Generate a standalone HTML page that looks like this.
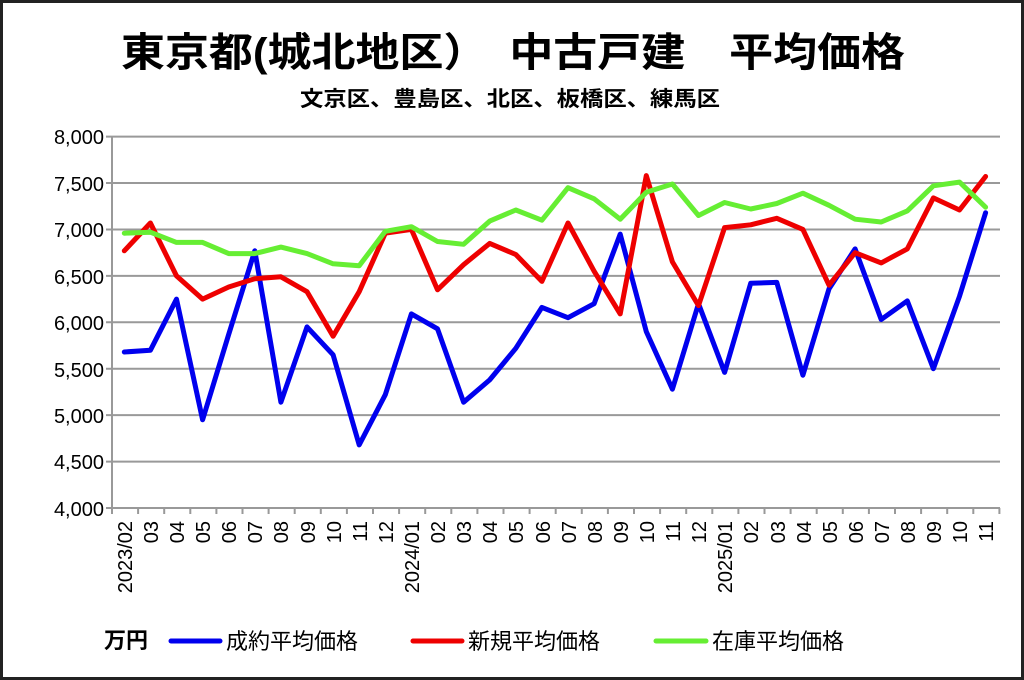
<!DOCTYPE html>
<html><head><meta charset="utf-8">
<style>
html,body{margin:0;padding:0;background:#fff;}
svg{display:block;}
text{font-family:"Liberation Sans","Noto Sans CJK JP",sans-serif;fill:#000;}
</style></head>
<body>
<svg id="c" width="1024" height="680" viewBox="0 0 1024 680" xmlns="http://www.w3.org/2000/svg">
<rect x="1.5" y="1.5" width="1021" height="677" fill="#fff" stroke="#222" stroke-width="3"/>
<text x="513" y="66" text-anchor="middle" font-size="40" font-weight="bold" textLength="784" lengthAdjust="spacingAndGlyphs">東京都(城北地区）　中古戸建　平均価格</text>
<text x="510" y="106" text-anchor="middle" font-size="21" font-weight="bold" textLength="420" lengthAdjust="spacingAndGlyphs">文京区、豊島区、北区、板橋区、練馬区</text>
<g id="grid" stroke="#999" stroke-width="2"></g>
<g font-size="20" text-anchor="end">
<text x="104" y="144">8,000</text>
<text x="104" y="191">7,500</text>
<text x="104" y="237">7,000</text>
<text x="104" y="284">6,500</text>
<text x="104" y="330">6,000</text>
<text x="104" y="377">5,500</text>
<text x="104" y="423">5,000</text>
<text x="104" y="469">4,500</text>
<text x="104" y="516">4,000</text>
</g>
<g id="xl" font-size="20" text-anchor="end">
<text transform="translate(132,521) rotate(-90)">2023/02</text>
<text transform="translate(158,521) rotate(-90)">03</text>
<text transform="translate(184,521) rotate(-90)">04</text>
<text transform="translate(210,521) rotate(-90)">05</text>
<text transform="translate(236,521) rotate(-90)">06</text>
<text transform="translate(262,521) rotate(-90)">07</text>
<text transform="translate(288,521) rotate(-90)">08</text>
<text transform="translate(315,521) rotate(-90)">09</text>
<text transform="translate(341,521) rotate(-90)">10</text>
<text transform="translate(367,521) rotate(-90)">11</text>
<text transform="translate(393,521) rotate(-90)">12</text>
<text transform="translate(419,521) rotate(-90)">2024/01</text>
<text transform="translate(445,521) rotate(-90)">02</text>
<text transform="translate(471,521) rotate(-90)">03</text>
<text transform="translate(497,521) rotate(-90)">04</text>
<text transform="translate(523,521) rotate(-90)">05</text>
<text transform="translate(550,521) rotate(-90)">06</text>
<text transform="translate(576,521) rotate(-90)">07</text>
<text transform="translate(602,521) rotate(-90)">08</text>
<text transform="translate(628,521) rotate(-90)">09</text>
<text transform="translate(654,521) rotate(-90)">10</text>
<text transform="translate(680,521) rotate(-90)">11</text>
<text transform="translate(706,521) rotate(-90)">12</text>
<text transform="translate(732,521) rotate(-90)">2025/01</text>
<text transform="translate(758,521) rotate(-90)">02</text>
<text transform="translate(785,521) rotate(-90)">03</text>
<text transform="translate(811,521) rotate(-90)">04</text>
<text transform="translate(837,521) rotate(-90)">05</text>
<text transform="translate(863,521) rotate(-90)">06</text>
<text transform="translate(889,521) rotate(-90)">07</text>
<text transform="translate(915,521) rotate(-90)">08</text>
<text transform="translate(941,521) rotate(-90)">09</text>
<text transform="translate(967,521) rotate(-90)">10</text>
<text transform="translate(993,521) rotate(-90)">11</text>
</g>
<g id="lines" fill="none" stroke-width="5" stroke-linejoin="round" stroke-linecap="round"></g>
<text x="104" y="648" font-size="22" font-weight="bold">万円</text>
<line x1="171" y1="641" x2="220" y2="641" stroke="#0000ee" stroke-width="5" stroke-linecap="round"/>
<text x="226" y="649" font-size="22">成約平均価格</text>
<line x1="413" y1="641" x2="462" y2="641" stroke="#ee0000" stroke-width="5" stroke-linecap="round"/>
<text x="468" y="649" font-size="22">新規平均価格</text>
<line x1="656" y1="641" x2="706" y2="641" stroke="#66ee33" stroke-width="5" stroke-linecap="round"/>
<text x="712" y="649" font-size="22">在庫平均価格</text>
</svg>
<script>
(function(){
var NS="http://www.w3.org/2000/svg";
var g=document.getElementById("grid"),L=document.getElementById("lines");
function el(p,t,a){var e=document.createElementNS(NS,t);for(var k in a)e.setAttribute(k,a[k]);p.appendChild(e);return e;}
var x0=112,w=26.1,n=34;
function Y(v){return 508-(v-4000)*0.09285;}
for(var v=4000;v<=8000;v+=500){var y=Y(v);el(g,"line",{x1:106,y1:y,x2:1000,y2:y});}
el(g,"line",{x1:x0,y1:136,x2:x0,y2:514});
for(var i=0;i<=n;i++){var x=x0+i*w;el(g,"line",{x1:x,y1:508,x2:x,y2:514});}
var B=[5680,5700,6250,4950,5870,6770,5140,5950,5650,4680,5220,6090,5930,5140,5380,5720,6160,6050,6200,6950,5900,5280,6200,5460,6420,6430,5430,6360,6790,6030,6230,5500,6280,7180];
var R=[6770,7070,6500,6250,6380,6470,6490,6330,5850,6330,6960,7000,6350,6620,6850,6730,6440,7070,6550,6090,7580,6650,6180,7020,7050,7120,7000,6400,6750,6640,6790,7340,7210,7570];
var G=[6960,6970,6860,6860,6740,6740,6810,6740,6630,6610,6980,7030,6870,6840,7090,7210,7100,7450,7330,7110,7400,7490,7150,7290,7220,7280,7390,7260,7110,7080,7200,7470,7510,7240];
function pl(d,c){var p=d.map(function(v,i){return (124.3+i*w).toFixed(1)+","+Y(v).toFixed(1);}).join(" ");el(L,"polyline",{points:p,stroke:c});}
pl(B,"#0000ee");pl(R,"#ee0000");pl(G,"#66ee33");
})();
</script>
</body></html>
